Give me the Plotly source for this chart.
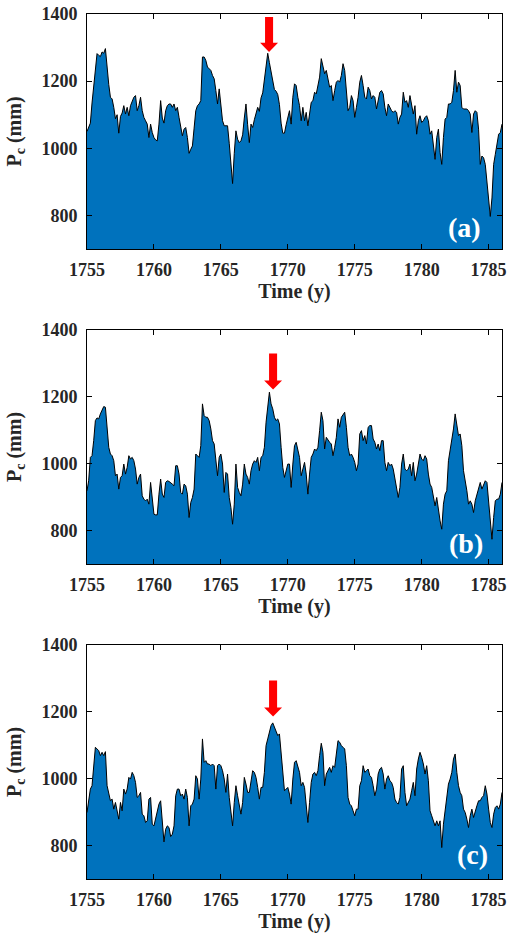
import numpy as np
import plotly.graph_objects as go

# ---------------- data ----------------
years = 1755 + np.arange(249) / 8.0   # 1/8-year sampling, 1755 .. 1786

pc_a = [
    1050, 1062, 1075, 1135, 1180, 1235, 1282, 1277, 1273, 1287,
    1283, 1297, 1240, 1190, 1152, 1147, 1122, 1088, 1100, 1045,
    1095, 1105, 1127, 1102, 1122, 1097, 1127, 1142, 1152, 1157,
    1112, 1127, 1152, 1112, 1092, 1082, 1072, 1032, 1072, 1047,
    1032, 1025, 1022, 1072, 1142, 1090, 1075, 1112, 1127, 1132,
    1132, 1122, 1132, 1112, 1122, 1092, 1067, 1037, 1057, 1062,
    1032, 985, 997, 1007, 1060, 1112, 1127, 1132, 1142, 1272,
    1272, 1262, 1242, 1237, 1232, 1217, 1207, 1172, 1132, 1177,
    1132, 1082, 1067, 1067, 1067, 1015, 955, 895, 985, 1052,
    1027, 1017, 1022, 1040, 1090, 1132, 1070, 1017, 1072, 1062,
    1085, 1100, 1122, 1110, 1150, 1165, 1205, 1235, 1283, 1255,
    1225, 1195, 1175, 1170, 1160, 1130, 1075, 1045, 1045, 1070,
    1092, 1112,
    1072, 1152, 1192, 1187, 1152, 1127, 1082, 1122, 1082, 1107,
    1067, 1102, 1137, 1142, 1167, 1162, 1192, 1212, 1267, 1242,
    1222, 1232, 1202, 1182, 1187, 1142, 1172, 1197, 1202, 1197,
    1217, 1252, 1232, 1162, 1112, 1122, 1157, 1142, 1092, 1122,
    1152, 1197, 1217, 1187, 1152, 1147, 1182, 1172, 1147, 1157,
    1152, 1117, 1142, 1167, 1172, 1162, 1122, 1097, 1132, 1122,
    1112, 1107, 1112, 1107, 1072, 1092, 1102, 1167, 1137, 1142,
    1122, 1157, 1132, 1102, 1127, 1042, 1082, 1097, 1077, 1082,
    1092, 1097, 1082, 1042, 1052, 1002, 967, 1032, 1057, 987,
    952, 1032, 1087, 1092, 1132, 1132, 1137, 1172, 1232, 1167,
    1197, 1187, 1122, 1117, 1117, 1117, 1112, 1102, 1047, 1102,
    1112, 1107, 1057, 952, 977, 972, 952, 902, 842, 797,
    852, 952, 982, 1012, 1042, 1047, 1072,
]

pc_b = [
    919, 949, 1019, 1024, 1069, 1129, 1137, 1134, 1149, 1159,
    1171, 1169, 1099, 1049, 1029, 1024, 1009, 964, 969, 924,
    959, 964, 999, 969, 989, 1024, 1014, 1019, 1009, 984,
    939, 959, 969, 904, 894, 889, 894, 879, 944, 899,
    849, 847, 847, 909, 954, 909, 899, 944, 949, 947,
    944, 939, 934, 994, 994, 969, 914, 909, 939, 934,
    909, 839, 884, 899, 924, 1029, 1024, 1019, 1054, 1179,
    1144, 1139, 1139, 1129, 1104, 1069, 1059, 1009, 964, 1019,
    1029, 999, 914, 974, 969, 899, 869, 819, 879, 999,
    929, 914, 904, 939, 999, 969, 959, 939, 979, 999,
    1009, 1004, 1019, 979, 1019, 1024, 1049, 1124, 1169, 1214,
    1179, 1164, 1139, 1129, 1134, 1119, 1049, 989, 959, 979,
    999, 999,
    929, 999, 1054, 1064, 1039, 1019, 964, 989, 1004, 969,
    909, 969, 1019, 1029, 1044, 1039, 1049, 1099, 1154, 1129,
    1044, 1079, 1069, 1064, 1059, 1024, 1049, 1079, 1134, 1109,
    1139, 1149, 1154, 1109, 1049, 1024, 1029, 1019, 1004, 979,
    999, 1089, 1099, 1069, 1084, 1059, 1109, 1114, 1114, 1074,
    1064, 1044, 1059, 1039, 1069, 1069, 1004, 979, 1004, 994,
    999, 984, 954, 929, 899, 929, 999, 1029, 984, 979,
    984, 999, 964, 1004, 949, 969, 1004, 1029, 1014, 1009,
    1024, 1014, 969, 939, 929, 899, 874, 899, 859, 829,
    804, 879, 909, 919, 1009, 1039, 1079, 1104, 1149, 1109,
    1084, 1089, 1054, 979, 954, 919, 879, 889, 879, 854,
    889, 909, 929, 944, 924, 939, 949, 944, 889, 844,
    774, 839, 889, 894, 894, 909, 944,
]

pc_c = [
    899, 929, 969, 979, 1039, 1094, 1089, 1084, 1069, 1079,
    1069, 1081, 979, 959, 934, 939, 909, 929, 904, 879,
    929, 904, 969, 954, 969, 1004, 999, 1019, 1009, 989,
    944, 949, 959, 894, 889, 869, 874, 939, 944, 864,
    859, 879, 899, 924, 934, 859, 811, 849, 859, 854,
    827, 834, 859, 949, 969, 969, 949, 954, 939, 969,
    944, 859, 919, 924, 939, 1009, 999, 939, 999, 1119,
    1049, 1054, 1044, 1044, 1039, 1044, 1039, 969, 1039, 1044,
    1039, 1024, 999, 959, 1014, 944, 904, 859, 929, 979,
    949, 919, 894, 929, 1004, 984, 959, 959, 999, 1024,
    1019, 1004, 974, 939, 974, 974, 1019, 1099, 1119, 1139,
    1159, 1167, 1154, 1139, 1129, 1134, 1069, 1004, 964, 969,
    974, 954,
    924, 999, 1049, 1054, 1039, 1019, 979, 989, 974, 919,
    869, 929, 989, 1014, 1019, 1009, 1024, 1069, 1106, 1079,
    979, 1014, 1024, 1034, 1019, 1039, 1034, 1069, 1114, 1109,
    1099, 1094, 1089, 1039, 944, 924, 919, 904, 889, 909,
    909, 979, 994, 1039, 1019, 1024, 1029, 1009, 1004, 979,
    949, 969, 1014, 1029, 1034, 1014, 969, 999, 1009, 994,
    989, 974, 939, 929, 924, 944, 1029, 1039, 959, 919,
    929, 939, 964, 989, 949, 1029, 1059, 1079, 1064, 1044,
    1014, 1039, 994, 904, 889, 874, 859, 874, 859, 874,
    794, 864, 904, 949, 984, 999, 1019, 1059, 1074, 1019,
    979, 959, 949, 909, 899, 879, 854, 889, 909, 884,
    904, 919, 934, 934, 944, 949, 979, 954, 909, 869,
    854, 894, 914, 919, 909, 924, 959,
]

series = [pc_a, pc_b, pc_c]
panel_labels = ["(a)", "(b)", "(c)"]
label_x = [1783.2, 1783.3, 1783.8]
label_y = [765, 760, 772]
arrow_x = [1768.6, 1768.9, 1768.9]
arrow_top = [1391, 1330, 1294]
arrow_tip = [1287, 1222, 1186]
x_ticks = [1755, 1760, 1765, 1770, 1775, 1780, 1785]
y_ticks = [800, 1000, 1200, 1400]
x_range = [1755, 1786]
y_range = [700, 1400]

# ---------------- styling ----------------
FILL = "#0072BD"
FONT = "Liberation Serif"
TXT = "#262626"
W, H = 518, 942
x_dom = [87 / W, 502 / W]
y_doms = [[1 - 249 / H, 1 - 14 / H], [1 - 564 / H, 1 - 330 / H], [1 - 879 / H, 1 - 645 / H]]

fig = go.Figure()
shapes = []
annotations = []
for i, vals in enumerate(series):
    n = "" if i == 0 else str(i + 1)
    fig.add_trace(go.Scatter(
        x=years, y=vals, mode="lines", fill="tozeroy",
        fillcolor=FILL, line=dict(color="black", width=1),
        xaxis="x" + n, yaxis="y" + n, showlegend=False, hoverinfo="x+y",
    ))
    axis_common = dict(
        showline=True, linecolor="black", linewidth=1, mirror="ticks",
        ticks="inside", ticklen=5, tickwidth=1, tickcolor="black",
        showgrid=False, zeroline=False, automargin=False,
        tickfont=dict(family=FONT, size=18, color=TXT),
    )
    fig.layout["xaxis" + n] = dict(
        axis_common, domain=x_dom, anchor="y" + n, range=x_range,
        tickmode="array", tickvals=x_ticks,
        ticktext=["<b>%d</b>" % t for t in x_ticks],
        ticklabelstandoff=4,
        title=dict(text="<b>Time (y)</b>", standoff=3,
                   font=dict(family=FONT, size=20, color=TXT)),
    )
    fig.layout["yaxis" + n] = dict(
        axis_common, domain=y_doms[i], anchor="x" + n, range=y_range,
        tickmode="array", tickvals=y_ticks,
        ticktext=["<b>%d</b>" % t for t in y_ticks],
        ticklabelstandoff=5,
        title=dict(text="<b>P<sub>c</sub> (mm)</b>", standoff=14,
                   font=dict(family=FONT, size=20, color=TXT)),
    )
    xr, yr = "x" + n, "y" + n
    ax, top, tip = arrow_x[i], arrow_top[i], arrow_tip[i]
    hb = tip + 27
    path = (f"M {ax-0.3},{top} L {ax+0.3},{top} L {ax+0.3},{hb} L {ax+0.67},{hb} "
            f"L {ax},{tip} L {ax-0.67},{hb} L {ax-0.3},{hb} Z")
    shapes.append(dict(type="path", path=path, xref=xr, yref=yr,
                       fillcolor="#FF0000", line=dict(width=0), layer="above"))
    annotations.append(dict(
        x=label_x[i], y=label_y[i], xref=xr, yref=yr, showarrow=False,
        text="<b>%s</b>" % panel_labels[i],
        font=dict(family=FONT, size=28, color="white"),
        xanchor="center", yanchor="middle",
    ))

fig.update_layout(
    width=W, height=H, margin=dict(l=0, r=0, t=0, b=0, autoexpand=False),
    paper_bgcolor="white", plot_bgcolor="white",
    shapes=shapes, annotations=annotations,
)
fig.write_html(
    "out.html",
    config={"displayModeBar": False},
    post_script="document.body.style.margin='0px';document.body.style.overflow='hidden';",
)
